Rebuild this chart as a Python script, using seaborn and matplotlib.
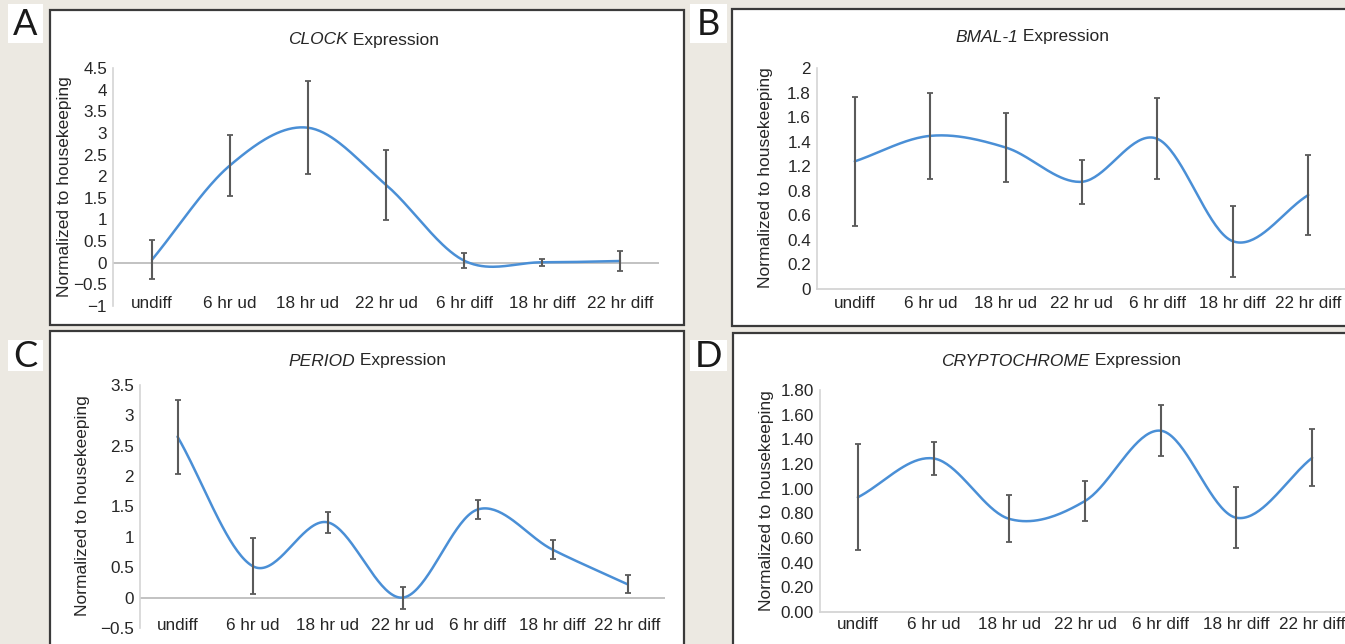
import numpy as np
import pandas as pd
import matplotlib
matplotlib.use("Agg")
import matplotlib.pyplot as plt
import seaborn as sns
from matplotlib.patches import Rectangle

# =========================================
# Data
# =========================================
categories = ["undiff", "6 hr ud", "18 hr ud", "22 hr ud",
              "6 hr diff", "18 hr diff", "22 hr diff"]

clock_mean = [0.07, 2.25, 3.12, 1.80, 0.05, 0.01, 0.04]
clock_err = [0.45, 0.70, 1.08, 0.81, 0.17, 0.08, 0.23]

bmal_mean = [1.155, 1.386, 1.28, 0.97, 1.36, 0.433, 0.85]
bmal_err = [0.585, 0.388, 0.31, 0.20, 0.365, 0.32, 0.36]

period_mean = [2.65, 0.52, 1.24, 0.0, 1.45, 0.79, 0.22]
period_err = [0.61, 0.46, 0.175, 0.18, 0.16, 0.155, 0.145]

cry_mean = [0.93, 1.245, 0.755, 0.90, 1.47, 0.764, 1.25]
cry_err = [0.43, 0.137, 0.19, 0.165, 0.205, 0.247, 0.23]

clock_yticks = ["\u22121", "\u22120.5", "0", "0.5", "1", "1.5", "2", "2.5", "3", "3.5", "4", "4.5"]
bmal_yticks = ["0", "0.2", "0.4", "0.6", "0.8", "1.2", "1.4", "1.6", "1.8", "2"]
period_yticks = ["\u22120.5", "0", "0.5", "1", "1.5", "2", "2.5", "3", "3.5"]
cry_yticks = ["0.00", "0.20", "0.40", "0.60", "0.80", "1.00", "1.20", "1.40", "1.60", "1.80"]

genes = ["CLOCK", "BMAL-1", "PERIOD", "CRYPTOCHROME"]
letters = ["A", "B", "C", "D"]

# =========================================
# Style
# =========================================
sns.set_style("white")
plt.rcParams["font.family"] = ["Liberation Sans", "DejaVu Sans"]

W, H = 1345, 644
BEIGE = "#ECE9E2"
BLUE = "#4A8FD6"
BAR = "#5A5A5A"
TXT = "#262626"
FS_TICK = 12.3
FS_TEXT = 12.5


def fx(x):
    return x / W


def fy(y):
    return 1 - y / H


def smooth(y, n=40):
    # Catmull-Rom through the points, same idea as Excel's smoothed line
    p = np.column_stack([np.arange(len(y)), y]).astype(float)
    p = np.vstack([2 * p[0] - p[1], p, 2 * p[-1] - p[-2]])
    t = np.linspace(0, 1, n, endpoint=False)[:, None]
    segs = []
    for i in range(1, len(p) - 2):
        p0, p1, p2, p3 = p[i - 1], p[i], p[i + 1], p[i + 2]
        segs.append(0.5 * (2 * p1 + (-p0 + p2) * t
                           + (2 * p0 - 5 * p1 + 4 * p2 - p3) * t ** 2
                           + (-p0 + 3 * p1 - 3 * p2 + p3) * t ** 3))
    segs.append(p[-2][None, :])
    return np.vstack(segs)


fig = plt.figure(figsize=(W / 100, H / 100), dpi=100, facecolor=BEIGE)

# panel frames and letter tags (pixel boxes: left, top, right, bottom)
frames = [(50, 10, 684, 325), (732, 9, 1380, 326),
          (50, 331, 684, 680), (733, 333, 1380, 680)]
tags = [(8, 4, 43, 43), (690, 4, 727, 43), (8, 340, 43, 371), (690, 340, 727, 371)]
for (l, t, r, b), (tl, tt, tr, tb), let in zip(frames, tags, letters):
    fig.patches.append(Rectangle((fx(l), fy(b)), (r - l) / W, (b - t) / H,
                                 transform=fig.transFigure, facecolor="white",
                                 edgecolor="#3A3A3A", lw=1.6, zorder=-2))
    fig.patches.append(Rectangle((fx(tl), fy(tb)), (tr - tl) / W, (tb - tt) / H,
                                 transform=fig.transFigure, facecolor="white",
                                 edgecolor="none", zorder=-2))
    fig.text(fx((tl + tr) / 2), fy((tt + tb) / 2 + 1), let, family="Lato",
             fontsize=26, color="#1A1A1A", ha="center", va="center")

# =========================================
# Panels
# =========================================
panels = [
    dict(mean=clock_mean, err=clock_err, ticks=clock_yticks, ylim=(-1, 4.5),
         box=(113, 68, 659, 306), zero=True, xpad=-7.2,
         title=(288, 40), ylab=(64, 187)),
    dict(mean=bmal_mean, err=bmal_err, ticks=bmal_yticks, ylim=(0, 2),
         box=(817, 68, 1346, 289), zero=False, xpad=5.0,
         title=(955, 37), ylab=(765, 178)),
    dict(mean=period_mean, err=period_err, ticks=period_yticks, ylim=(-0.5, 3.5),
         box=(140, 385, 665, 628), zero=True, xpad=-7.2,
         title=(288, 361), ylab=(82, 506)),
    dict(mean=cry_mean, err=cry_err, ticks=cry_yticks, ylim=(0, 1.8),
         box=(820, 390, 1350, 612), zero=False, xpad=3.6,
         title=(941, 361), ylab=(767, 501)),
]

for gene, p in zip(genes, panels):
    l, t, r, b = p["box"]
    ax = fig.add_axes([fx(l), fy(b), (r - l) / W, (b - t) / H])
    ax.set_facecolor("none")

    df = pd.DataFrame({"cat": categories, "mean": p["mean"], "err": p["err"]})
    curve = smooth(df["mean"].values)
    sns.lineplot(x=curve[:, 0], y=curve[:, 1], ax=ax, color=BLUE, lw=1.8,
                 sort=False, estimator=None, zorder=3)
    ax.errorbar(np.arange(len(df)), df["mean"], yerr=df["err"], fmt="none",
                ecolor=BAR, elinewidth=1.5, capsize=2.4, capthick=1.3, zorder=4)

    if p["zero"]:
        ax.axhline(0, color="#BDBDBD", lw=1.3, zorder=1)

    lo, hi = p["ylim"]
    ax.set_xlim(-0.5, len(categories) - 0.5)
    ax.set_ylim(lo, hi)
    ax.set_yticks(np.linspace(lo, hi, len(p["ticks"])))
    ax.set_yticklabels(p["ticks"])
    ax.set_xticks(range(len(categories)))
    ax.set_xticklabels(categories)
    ax.tick_params(axis="y", length=0, pad=4.3, labelsize=FS_TICK, labelcolor=TXT)
    ax.tick_params(axis="x", length=0, pad=p["xpad"], labelsize=FS_TICK, labelcolor=TXT)
    ax.set_xlabel("")
    ax.set_ylabel("")

    for s in ["top", "right"]:
        ax.spines[s].set_visible(False)
    ax.spines["left"].set_color("#D4D4D4")
    ax.spines["left"].set_linewidth(1.2)
    if p["zero"]:
        ax.spines["bottom"].set_visible(False)
    else:
        ax.spines["bottom"].set_color("#D4D4D4")
        ax.spines["bottom"].set_linewidth(1.3)

    # title: italic gene name + plain "Expression"
    tx, ty = p["title"]
    t1 = fig.text(fx(tx), fy(ty), gene, style="italic", fontsize=FS_TEXT,
                  color=TXT, ha="left", va="center")
    ax.annotate(" Expression", xy=(1, 0.5), xycoords=t1, fontsize=FS_TEXT,
                color=TXT, ha="left", va="center", annotation_clip=False)

    yx, yy = p["ylab"]
    fig.text(fx(yx), fy(yy), "Normalized to housekeeping", rotation=90,
             fontsize=FS_TEXT, color=TXT, ha="center", va="center")

fig.savefig("out.png", dpi=100, facecolor=BEIGE)
